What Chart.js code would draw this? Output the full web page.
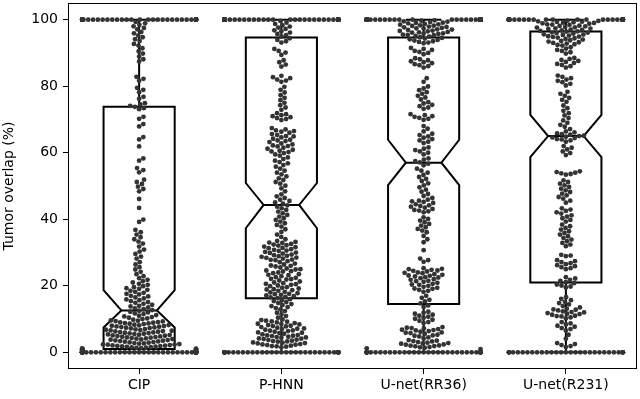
<!DOCTYPE html>
<html><head><meta charset="utf-8">
<script src="https://cdn.jsdelivr.net/npm/chart.js@4"></script>
<style>html,body{margin:0;padding:0;background:#fff}#wrap{width:640px;height:399px}</style>
</head><body><div id="wrap"><canvas id="c" width="640" height="399"></canvas></div>
<script>
const categories = ['CIP', 'P-HNN', 'U-net(RR36)', 'U-net(R231)'];
const yTicks = [0, 20, 40, 60, 80, 100];

// notched box statistics
const q1 = [1.0, 16.3, 14.5, 21.0];
const medians = [12.6, 44.3, 57.0, 65.0];
const q3 = [73.8, 94.6, 94.6, 96.4];
const notchLow = [7.5, 37.3, 50.3, 58.7];
const notchHigh = [18.7, 50.9, 63.9, 71.4];
const whiskerLow = [0, 0, 0, 0];
const whiskerHigh = [100, 100, 100, 100];

// number of cases at exactly 0 % and exactly 100 %
const countAtZero = [60, 35, 35, 30];
const countAtHundred = [40, 55, 45, 45];

// remaining observations per method
const cipValues = [
 99.3, 98.9, 98.4, 98.0, 97.5, 97.1, 96.3, 95.9, 95.2, 94.7, 94.1, 93.6,
 92.7, 92.2, 91.4, 90.5, 89.8, 88.9, 88.1, 87.4, 82.8, 82.2, 81.6, 79.5, 78.9, 78.2, 76.8, 76.2, 74.9, 74.5, 74.1, 73.8, 73.4, 73.1,
 70.8, 70.2, 68.6, 67.9, 64.7, 64.0, 61.9, 58.3, 57.6, 55.4, 54.8, 54.1, 51.9, 51.2, 50.6, 49.8, 49.1, 48.4, 46.1, 43.4,
 39.9, 39.2, 36.8, 36.1, 35.4,
 34.6, 34.0, 33.3, 32.7, 31.8, 30.9, 30.3, 29.6, 28.8, 28.2, 27.1, 26.4, 25.6, 24.9, 24.2, 23.5, 22.9, 22.3, 21.8, 21.4, 21.0, 20.6, 20.3, 19.9, 19.6, 19.3, 19.1, 18.8,
 18.5, 18.2, 17.9, 17.6, 17.4, 17.0, 16.8, 16.5, 16.2, 15.9, 15.7, 15.4, 15.1, 14.9, 14.6, 14.3, 14.0, 13.8, 13.5, 13.2, 13.0, 12.7, 12.5, 12.2, 12.0, 11.7, 11.5, 11.2, 11.0, 10.8, 10.6, 10.4, 10.2, 10.0,
 9.8, 9.6, 9.5, 9.4, 9.3, 9.1, 9.0, 8.9, 8.8, 8.7, 8.6, 8.5, 8.3, 8.2, 8.1, 8.0, 7.9, 7.8, 7.7, 7.6, 7.5, 7.4, 7.3, 7.2, 7.0, 6.9, 6.8, 6.7, 6.6, 6.5, 6.4, 6.3, 6.2, 6.1, 6.0, 5.9, 5.8, 5.7, 5.6, 5.5, 5.4, 5.3, 5.2, 5.1, 5.0, 4.9, 4.8, 4.7, 4.6, 4.5, 4.4, 4.3, 4.2, 4.1, 4.0, 3.9, 3.8, 3.7, 3.6, 3.5, 3.4, 3.3, 3.2, 3.1, 3.0, 2.9, 2.8,
 2.7, 2.6, 2.5, 2.4, 2.35, 2.3, 2.2, 2.1, 2.0, 1.95, 1.9, 1.8, 1.7, 1.65, 1.6, 1.5, 1.4, 1.35, 1.3, 1.2, 1.1, 1.05, 1.0, 0.9, 0.85, 0.8, 0.7, 0.6, 0.55, 0.5, 0.4, 0.35, 0.3, 0.2
];
const phnnValues = [
 99.6, 99.1, 98.7, 98.3, 97.9, 97.6, 97.2, 96.8, 96.5, 96.1, 95.7, 95.3, 94.9, 94.4, 93.9, 93.5, 93.1,
 91.2, 90.6, 90.1, 89.4, 87.8, 87.2, 86.5, 85.9,
 83.1, 82.7, 82.4, 82.0, 81.7, 81.3,
 79.8, 78.9, 78.1, 77.3, 76.5, 75.8, 75.0, 74.3, 73.6, 72.9,
 71.9, 71.6, 71.3, 71.0, 70.7, 70.4, 70.1, 69.8,
 67.4, 67.0, 66.7, 66.5, 66.3, 66.0, 65.6, 65.3, 65.0, 64.9, 64.6, 64.2, 63.9, 63.7, 63.5, 63.2, 62.8, 62.5, 62.2, 62.0, 61.9, 61.5, 61.2, 60.9, 60.6, 60.4, 60.2, 59.9, 59.5, 59.1,
 58.6, 58.1, 57.6, 57.2, 56.8, 56.3, 55.8, 55.2,
 54.6, 54.0, 53.5, 52.9, 52.3, 51.8, 51.2, 50.7, 50.1,
 49.3, 48.4, 47.5, 46.9, 46.4, 45.9, 45.5, 45.1, 44.7, 44.2, 43.8,
 43.3, 42.8, 42.3, 41.8, 41.3, 40.8, 40.3, 39.8, 39.3, 38.8, 38.3, 37.8,
 37.0, 36.2, 35.4, 34.7, 34.0,
 33.5, 33.2, 33.0, 32.9, 32.6, 32.4, 32.2, 32.1, 31.8, 31.6, 31.4, 31.3, 31.0, 30.8, 30.6, 30.5, 30.2, 30.0, 29.9, 29.7, 29.4, 29.2, 29.0, 28.9, 28.7, 28.5, 28.4, 28.2, 27.9, 27.8, 27.7, 27.4, 27.1,
 26.7, 26.4, 26.1, 26.0, 25.8, 25.5, 25.2, 25.0, 24.9, 24.6, 24.4, 24.3, 24.0, 23.8, 23.5, 23.3, 23.2, 22.9, 22.6, 22.4, 22.1, 22.0, 21.9, 21.6, 21.3,
 21.0, 20.8, 20.6, 20.5, 20.3, 20.1, 19.9, 19.6, 19.4, 19.2, 19.0, 18.9, 18.7, 18.5, 18.2, 18.0, 17.8, 17.6, 17.5, 17.3, 17.1, 16.9, 16.7, 16.5, 16.3,
 16.0, 15.7, 15.4, 15.1, 14.8, 14.5, 14.2, 13.9, 13.6, 13.3,
 12.9, 12.4, 11.9, 11.4, 10.9, 10.4, 9.9, 9.7, 9.5,
 9.3, 9.2, 9.0, 8.8, 8.6, 8.5, 8.4, 8.2, 8.0, 7.9, 7.8, 7.6, 7.4, 7.2, 7.1, 7.0, 6.8, 6.6, 6.5, 6.4, 6.2, 6.0, 5.9, 5.8,
 5.6, 5.4, 5.2, 5.1, 5.0, 4.9, 4.7, 4.6, 4.5, 4.4, 4.2, 4.1, 4.0, 3.8, 3.7, 3.5, 3.4, 3.3, 3.2, 3.0, 2.9, 2.8, 2.7, 2.5, 2.4, 2.3, 2.2, 2.0, 1.9, 1.8, 1.7, 1.5
];
const rr36Values = [
 99.8, 99.7, 99.5, 99.4, 99.3, 99.1, 99.0, 98.9, 98.7, 98.6, 98.5, 98.3, 98.2, 98.1, 97.9, 97.8, 97.7, 97.5, 97.4, 97.3, 97.1, 97.0, 96.9, 96.7, 96.6, 96.5, 96.3, 96.2, 96.1, 95.9, 95.8, 95.7, 95.5, 95.4, 95.3, 95.1, 94.9, 94.7, 94.5, 94.3, 94.1, 93.9, 93.7, 93.5, 93.3, 93.1, 92.9,
 91.5, 91.2, 90.9, 90.6, 90.3, 90.0, 89.6,
 88.4, 88.1, 87.8, 87.5, 87.2, 86.9, 86.6, 86.3, 86.0, 85.6,
 82.4, 81.3,
 79.9, 79.3, 78.8, 78.2, 77.7, 77.1, 76.6, 76.0,
 75.2, 74.8, 74.4, 74.0, 73.6, 73.2,
 71.6, 71.3, 71.0, 70.8, 70.5, 70.2, 69.9,
 68.0, 67.2, 66.4,
 65.7, 65.3, 64.9, 64.5, 64.1, 63.7, 63.3, 62.9,
 61.6, 61.2, 60.8, 60.4, 60.0, 59.5,
 58.3, 57.9, 57.5, 57.1, 56.7, 56.2,
 55.2, 54.6, 54.0, 53.3, 52.7, 52.1, 51.5, 50.8, 50.2, 49.6, 48.9, 48.3, 47.6, 47.0, 46.4,
 45.9, 45.6, 45.4, 45.2, 44.9, 44.5, 44.2, 44.0, 43.8, 43.5, 43.1, 42.8, 42.6, 42.4, 42.1,
 40.6, 40.1, 39.6, 39.1, 38.6, 38.1, 37.6, 37.1, 36.6, 36.1,
 35.0, 34.0, 33.1, 30.7, 28.2, 27.7, 27.2,
 25.3, 25.1, 25.0, 24.8, 24.6, 24.5, 24.3, 24.0, 23.9, 23.8, 23.5, 23.3, 23.1, 23.0, 22.8, 22.6, 22.5, 22.3, 22.0, 21.8,
 21.5, 21.4, 21.2, 20.9, 20.6, 20.4, 20.3, 20.0, 19.7, 19.4, 19.2, 19.1, 18.8, 18.5, 18.2,
 17.0, 16.4, 15.8, 15.3, 14.7, 14.1, 13.6,
 12.2, 11.9, 11.6, 11.3, 11.0, 10.7, 10.4, 10.1, 9.8, 9.5, 9.1, 8.8,
 7.6, 7.4, 7.3, 7.2, 7.0, 6.8, 6.7, 6.6, 6.4, 6.2, 6.0, 5.9, 5.8, 5.6, 5.3, 5.1, 5.0, 4.8, 4.5, 4.2,
 3.7, 3.5, 3.4, 3.3, 3.1, 2.9, 2.8, 2.7, 2.6, 2.4, 2.3, 2.1, 2.0, 1.9, 1.8, 1.6, 1.5, 1.4, 1.2, 1.0
];
const r231Values = [
 99.7, 99.6, 99.5, 99.4, 99.3, 99.2, 99.1, 99.0, 98.9, 98.8, 98.6, 98.5, 98.4, 98.2, 98.1, 98.0, 97.8, 97.7, 97.6, 97.4, 97.3, 97.2, 97.0, 96.9, 96.8, 96.6, 96.5, 96.4, 96.2, 96.1, 96.0, 95.8, 95.6, 95.5, 95.4, 95.2, 95.0, 94.9, 94.8, 94.6, 94.4, 94.2, 94.0, 93.8, 93.6, 93.4, 93.2, 93.0, 92.8, 92.6, 92.4, 92.2,
 91.7, 91.3, 90.9, 90.6, 90.2, 89.8,
 88.5, 88.2, 87.9, 87.6, 87.3, 87.0, 86.7, 86.4, 86.0, 85.6,
 83.2, 82.8, 82.4, 82.0, 81.6, 81.2, 80.7, 80.2,
 78.3, 77.7, 77.1, 76.5, 75.9, 75.3,
 74.2, 73.4, 72.6, 71.9, 71.2,
 70.4, 69.7, 69.0, 68.4, 67.8, 67.1,
 66.4, 66.1, 65.8, 65.6, 65.4, 65.1, 65.0, 64.8, 64.6, 64.4, 64.1, 64.0, 63.7, 63.3,
 62.0, 61.5, 61.0, 60.4, 59.9, 59.3,
 54.4, 54.2, 54.0, 53.8, 53.6, 53.4,
 51.7, 51.2, 50.7, 50.2, 49.7, 49.2, 48.7, 48.2, 47.7, 47.2, 46.7, 46.2, 45.6, 45.0,
 43.3, 42.9, 42.5, 42.1, 41.7, 41.2, 40.8, 40.3, 39.8, 39.3,
 38.4, 37.9, 37.4, 36.9, 36.4, 35.9, 35.4, 34.9, 34.4, 33.9, 33.4, 32.9, 32.4, 31.9,
 29.3, 29.1, 28.9,
 27.7, 27.4, 27.1, 26.8, 26.5, 26.2, 25.9, 25.6, 25.3, 25.0,
 22.6, 22.2, 21.8, 21.5, 21.1, 20.8, 20.4, 20.1, 19.8, 19.5,
 16.6, 16.1, 15.7, 15.2, 14.8, 14.4, 13.9, 13.5,
 13.1, 12.9, 12.8, 12.6, 12.3, 12.1, 12.0, 11.8, 11.6, 11.5, 11.3, 11.0, 10.9, 10.8, 10.5, 10.2,
 9.1, 8.7, 8.4, 8.0, 7.7, 7.3, 7.0, 6.6,
 5.3, 4.1,
 2.8, 2.5, 2.2, 1.9, 1.6
];
const seriesValues = [cipValues, phnnValues, rr36Values, r231Values];

const DOT_COLOR = '#333333';
const DOT_R = 2.4;

function fullSeries(k) {
  const v = seriesValues[k].slice();
  for (let i = 0; i < countAtZero[k]; i++) v.push(0);
  for (let i = 0; i < countAtHundred[k]; i++) v.push(100);
  return v;
}

// beeswarm layout in pixel space (layout only, values are untouched)
function swarmOffsets(py, r) {
  const d = 2 * r, d2 = d * d;
  const order = py.map((_, i) => i).sort((a, b) => py[b] - py[a]);
  const placed = [];
  const out = new Array(py.length).fill(0);
  for (const i of order) {
    const y = py[i];
    const nb = [];
    for (const p of placed) if (Math.abs(p.y - y) < d) nb.push(p);
    const cands = [0];
    for (const p of nb) {
      const dx = Math.sqrt(d2 - (p.y - y) * (p.y - y));
      cands.push(p.x + dx, p.x - dx);
    }
    cands.sort((a, b) => Math.abs(a) - Math.abs(b));
    let x = 0;
    for (const c of cands) {
      let ok = true;
      for (const p of nb) {
        if ((p.x - c) * (p.x - c) + (p.y - y) * (p.y - y) < d2 - 0.01) { ok = false; break; }
      }
      if (ok) { x = c; break; }
    }
    placed.push({ x, y });
    out[i] = x;
  }
  return out;
}

const datasets = categories.map((c, k) => ({
  label: c,
  data: fullSeries(k).map(v => ({ x: k, y: v })),
  pointRadius: DOT_R,
  pointHoverRadius: DOT_R,
  pointBackgroundColor: DOT_COLOR,
  pointBorderWidth: 0,
  borderWidth: 0
}));

const boxPlugin = {
  id: 'boxes',
  beforeDatasetsDraw(chart) {
    const { ctx, scales: { x, y } } = chart;
    ctx.save();
    ctx.strokeStyle = '#000';
    ctx.lineWidth = 2;
    ctx.lineJoin = 'miter';
    for (let k = 0; k < categories.length; k++) {
      const hw = 0.25, nw = 0.125;
      const xl = x.getPixelForValue(k - hw), xr = x.getPixelForValue(k + hw);
      const nl = x.getPixelForValue(k - nw), nr = x.getPixelForValue(k + nw);
      const xc = x.getPixelForValue(k);
      const Y = v => y.getPixelForValue(v);
      ctx.beginPath();
      ctx.moveTo(xl, Y(q1[k]));
      ctx.lineTo(xl, Y(notchLow[k]));
      ctx.lineTo(nl, Y(medians[k]));
      ctx.lineTo(xl, Y(notchHigh[k]));
      ctx.lineTo(xl, Y(q3[k]));
      ctx.lineTo(xr, Y(q3[k]));
      ctx.lineTo(xr, Y(notchHigh[k]));
      ctx.lineTo(nr, Y(medians[k]));
      ctx.lineTo(xr, Y(notchLow[k]));
      ctx.lineTo(xr, Y(q1[k]));
      ctx.closePath();
      ctx.stroke();
      ctx.beginPath();
      ctx.moveTo(nl, Y(medians[k])); ctx.lineTo(nr, Y(medians[k]));
      ctx.moveTo(xc, Y(q1[k])); ctx.lineTo(xc, Y(whiskerLow[k]));
      ctx.moveTo(xc, Y(q3[k])); ctx.lineTo(xc, Y(whiskerHigh[k]));
      ctx.moveTo(nl, Y(whiskerLow[k])); ctx.lineTo(nr, Y(whiskerLow[k]));
      ctx.moveTo(nl, Y(whiskerHigh[k])); ctx.lineTo(nr, Y(whiskerHigh[k]));
      ctx.stroke();
    }
    ctx.restore();
  },
  afterDraw(chart) {
    const { ctx, chartArea: a } = chart;
    ctx.save();
    ctx.strokeStyle = '#000';
    ctx.lineWidth = 1;
    ctx.strokeRect(Math.round(a.left) + 0.5, Math.round(a.top) + 0.5,
      Math.round(a.right - a.left) - 1, Math.round(a.bottom - a.top) - 1);
    ctx.restore();
  }
};

Chart.defaults.font.family = "'DejaVu Sans', sans-serif";
Chart.defaults.font.size = 14;
Chart.defaults.color = '#000';

const chart = new Chart(document.getElementById('c'), {
  type: 'scatter',
  data: { datasets },
  plugins: [boxPlugin],
  options: {
    responsive: false,
    animation: false,
    events: [],
    layout: { padding: { top: 3, right: 3, left: 0, bottom: 0 } },
    plugins: { legend: { display: false }, tooltip: { enabled: false } },
    scales: {
      x: {
        type: 'linear', min: -0.5, max: 3.5,
        afterBuildTicks: s => { s.ticks = categories.map((_, i) => ({ value: i })); },
        afterFit: s => { s.height = 30; s.paddingLeft = 0; s.paddingRight = 0; },
        ticks: { callback: v => categories[v], padding: 3, maxRotation: 0, autoSkip: false },
        grid: { display: true, drawOnChartArea: false, drawTicks: true, tickLength: 5, tickColor: '#000', tickWidth: 1 },
        border: { display: false }
      },
      y: {
        type: 'linear', min: -5, max: 105,
        afterBuildTicks: s => { s.ticks = yTicks.map(v => ({ value: v })); },
        afterFit: s => { s.width = 68; s.paddingTop = 0; s.paddingBottom = 0; },
        ticks: { padding: 5 },
        grid: { display: true, drawOnChartArea: false, drawTicks: true, tickLength: 5, tickColor: '#000', tickWidth: 1 },
        border: { display: false },
        title: { display: true, text: 'Tumor overlap (%)', padding: { top: 1, bottom: 0 }, font: { size: 14 } }
      }
    }
  }
});

// second pass: spread the points sideways with the swarm layout, using the chart's scales
(function () {
  const xs = chart.scales.x, ys = chart.scales.y;
  const unit = xs.getPixelForValue(1) - xs.getPixelForValue(0);
  const gutter = 0.4 * unit;
  chart.data.datasets.forEach((ds, k) => {
    const py = ds.data.map(p => ys.getPixelForValue(p.y));
    const off = swarmOffsets(py, DOT_R);
    ds.data = ds.data.map((p, i) => ({ x: k + Math.max(-gutter, Math.min(gutter, off[i])) / unit, y: p.y }));
  });
  chart.update('none');
})();
</script>
</body></html>
